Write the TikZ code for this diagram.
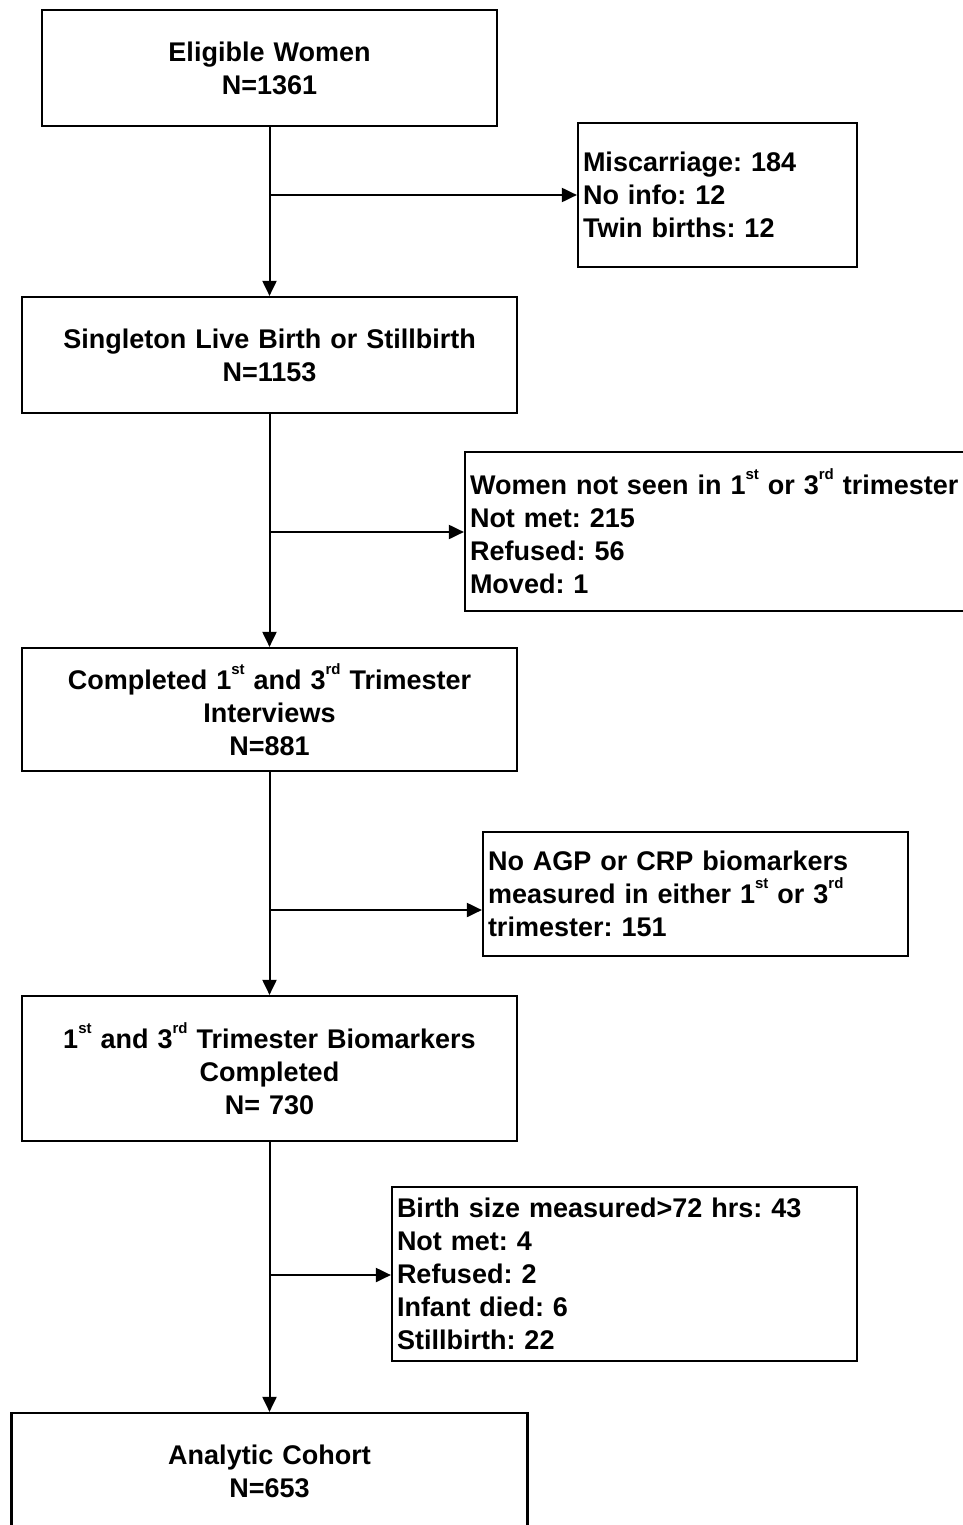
\documentclass[tikz,border=0pt]{standalone}
\usepackage{fontspec}
\setmainfont{Liberation Sans}
\usetikzlibrary{arrows.meta}
\tikzset{
  box/.style={draw, line width=2.2pt, inner xsep=5pt, inner ysep=0pt,
    font=\fontsize{27}{33}\selectfont\bfseries\frenchspacing},
  mainbox/.style={box, align=center},
  sidebox/.style={box, align=left},
  arr/.style={line width=2pt, -{Triangle[length=15pt,width=14pt]}},
  ln/.style={line width=2pt}
}
\newcommand{\sps}[1]{\raisebox{0.55em}{\fontsize{15}{15}\selectfont #1}}
\begin{document}
\begin{tikzpicture}[x=1pt,y=-1pt]
\useasboundingbox (0,0) rectangle (963,1525);
\clip (0,0) rectangle (963,1525);
\fill[white] (0,0) rectangle (963,1525);
\node[mainbox, text width=445pt, minimum height=116pt] (b1) at (269.5,68) {Eligible Women\\N=1361};
\node[sidebox, text width=269pt, minimum height=144pt] (b2) at (717.5,195) {Miscarriage: 184\\No info: 12\\Twin births: 12};
\node[mainbox, text width=485pt, minimum height=116pt] (b3) at (269.5,355) {Singleton Live Birth or Stillbirth\\N=1153};
\node[sidebox, text width=510pt, minimum height=159pt] (b4) at (725,531.5) {Women not seen in 1\sps{st} or 3\sps{rd} trimester\\Not met: 215\\Refused: 56\\Moved: 1};
\node[mainbox, text width=485pt, minimum height=123pt] (b5) at (269.5,709.5) {Completed 1\sps{st} and 3\sps{rd} Trimester\\Interviews\\N=881};
\node[sidebox, text width=415pt, minimum height=124pt] (b6) at (695.5,894) {No AGP or CRP biomarkers\\measured in either 1\sps{st} or 3\sps{rd}\\trimester: 151};
\node[mainbox, text width=485pt, minimum height=145pt] (b7) at (269.5,1068.5) {1\sps{st} and 3\sps{rd} Trimester Biomarkers\\Completed\\N= 730};
\node[sidebox, text width=455pt, minimum height=174pt] (b8) at (624.5,1274) {Birth size measured>72 hrs: 43\\Not met: 4\\Refused: 2\\Infant died: 6\\Stillbirth: 22};
\node[mainbox, text width=506pt, minimum height=116pt] (b9) at (269.5,1471) {Analytic Cohort\\N=653};
\coordinate (j1) at (269.5,195);
\coordinate (j2) at (269.5,532);
\coordinate (j3) at (269.5,910);
\coordinate (j4) at (269.5,1275);
\draw[arr] (b1.south) -- (b3.north);
\draw[arr] (b3.south) -- (b5.north);
\draw[arr] (b5.south) -- (b7.north);
\draw[arr] (b7.south) -- (b9.north);
\draw[arr] (j1) -- (j1 -| b2.west);
\draw[arr] (j2) -- (j2 -| b4.west);
\draw[arr] (j3) -- (j3 -| b6.west);
\draw[arr] (j4) -- (j4 -| b8.west);
\end{tikzpicture}
\end{document}
